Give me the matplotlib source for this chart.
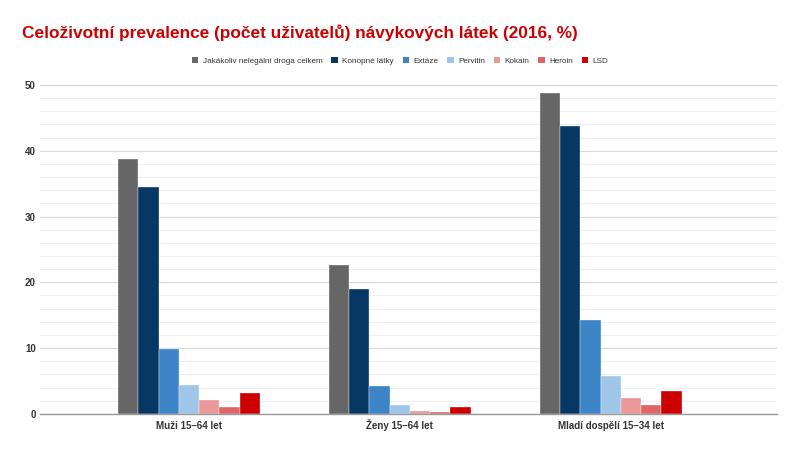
import numpy as np
import matplotlib
matplotlib.use("Agg")
import matplotlib.pyplot as plt
from matplotlib.patches import Patch

plt.rcParams['font.family'] = ['Liberation Sans', 'DejaVu Sans']

# skupiny a látky
groups = ['Muži 15–64 let', 'Ženy 15–64 let', 'Mladí dospělí 15–34 let']
substances = ['Jakákoliv nelegální droga celkem', 'Konopné látky', 'Extáze',
              'Pervitin', 'Kokain', 'Heroin', 'LSD']

celkem = [38.7, 22.6, 48.7]
konopi = [34.5, 19.0, 43.8]
extaze = [9.9, 4.3, 14.3]
pervitin = [4.4, 1.4, 5.8]
kokain = [2.1, 0.5, 2.4]
heroin = [1.1, 0.3, 1.3]
lsd = [3.2, 1.0, 3.5]

series = [celkem, konopi, extaze, pervitin, kokain, heroin, lsd]
colors = ['#666666', '#073763', '#3d85c6', '#9fc5e8', '#ea9999', '#e06666', '#cc0000']

fig = plt.figure(figsize=(8, 4.49), dpi=100)
ax = fig.add_axes([0.05, 0.078, 0.921, 0.733])

x = np.arange(len(groups))
w = 0.096
n = len(series)
for i, (vals, c) in enumerate(zip(series, colors)):
    ax.bar(x + (i - (n - 1) / 2) * w, vals, width=w, color=c, label=substances[i],
           edgecolor='white', linewidth=0.25, zorder=3)

ax.set_xlim(-0.706, 2.787)
ax.set_ylim(0, 50)
ax.set_yticks(range(0, 51, 10))
ax.set_yticks(range(0, 51, 2), minor=True)
ax.grid(axis='y', which='major', color='#d9d9d9', linewidth=0.8, zorder=0)
ax.grid(axis='y', which='minor', color='#efefef', linewidth=0.7, zorder=0)
ax.set_xticks(x)
ax.set_xticklabels(groups, fontsize=7, fontweight='bold', color='#333333', va='baseline')
ax.tick_params(axis='y', labelsize=7, labelcolor='#333333', length=0, pad=3, which='both')
ax.tick_params(axis='x', length=0, pad=11)
for lab in ax.get_yticklabels():
    lab.set_fontweight('bold')
for s in ['top', 'right', 'left']:
    ax.spines[s].set_visible(False)
ax.spines['bottom'].set_color('#999999')
ax.spines['bottom'].set_linewidth(1)
ax.spines['bottom'].set_zorder(4)

handles = [Patch(facecolor=c, label=s) for c, s in zip(colors, substances)]
fig.legend(handles=handles, loc='center', bbox_to_anchor=(0.5, 0.864), ncol=7,
           frameon=False, fontsize=5.9, handlelength=0.8, handleheight=0.8,
           handletextpad=0.5, columnspacing=1.1, labelcolor='#333333')

fig.text(0.028, 0.928, 'Celoživotní prevalence (počet uživatelů) návykových látek (2016, %)',
         fontsize=12.4, fontweight='bold', color='#cc0000', va='center', ha='left')

fig.savefig('out.png', dpi=100, facecolor='white')
